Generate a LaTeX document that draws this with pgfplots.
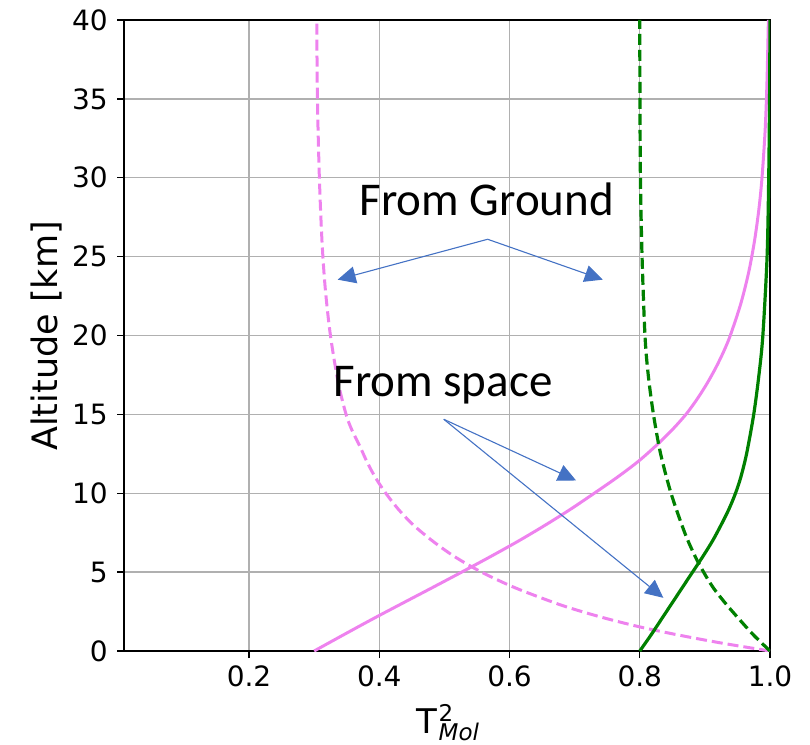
\documentclass[border=0pt]{standalone}
\usepackage{fontspec}
\setmainfont{DejaVu Sans}
\newfontfamily\carlito{Carlito}
\usepackage{pgfplots}
\pgfplotsset{compat=1.18}
\usetikzlibrary{arrows.meta}
\definecolor{violetc}{HTML}{EE82EE}
\definecolor{greenc}{HTML}{008000}
\definecolor{arrowc}{HTML}{4472C4}
\definecolor{gridc}{HTML}{B0B0B0}

% from space, pink (solid)
\pgfplotstableread{
x y
0.3000 0
0.3440 1
0.3885 2
0.4344 3
0.4807 4
0.5265 5
0.5715 6
0.6149 7
0.6557 8
0.6942 9
0.7301 10
0.7650 11
0.7971 12
0.8246 13
0.8493 14
0.8709 15
0.8886 16
0.9039 17
0.9173 18
0.9290 19
0.9390 20
0.9550 22
0.9672 24
0.9762 26
0.9829 28
0.9877 30
0.9925 33
0.9953 36
0.9975 40
}\spacepink

% from ground, pink (dashed)
\pgfplotstableread{
x y
1.000 0
0.926 0.5
0.861 1
0.803 1.5
0.754 2
0.711 2.5
0.673 3
0.609 4
0.557 5
0.515 6
0.481 7
0.452 8
0.429 9
0.410 10
0.394 11
0.381 12
0.370 13
0.358 14
0.349 15
0.337 17
0.325 20
0.317 23
0.312 26
0.308 30
0.305 35
0.304 40
}\groundpink

% from space, green (solid)
\pgfplotstableread{
x y
0.800 0
0.817 1
0.833 2
0.849 3
0.865 4
0.881 5
0.897 6
0.912 7
0.925 8
0.937 9
0.947 10
0.955 11
0.964 12.5
0.975 15
0.983 17.5
0.989 20
0.9955 25
0.998 30
0.9993 35
1.000 40
}\spacegreen

% from ground, green (dashed)
\pgfplotstableread{
x y
1.000 0
0.975 1
0.953 2
0.932 3
0.913 4
0.898 5
0.885 6
0.869 7.5
0.848 10
0.832 12.5
0.821 15
0.813 17.5
0.808 20
0.8035 25
0.801 30
0.8003 35
0.800 40
}\groundgreen

\begin{document}
\begin{tikzpicture}[x=1pt,y=1pt]
\path[use as bounding box] (0,0) rectangle (810,744);
\begin{axis}[
  at={(124pt,93pt)}, anchor=south west,
  scale only axis, width=646pt, height=631pt,
  xmin=0.008, xmax=1.0, ymin=0, ymax=40,
  xtick={0.2,0.4,0.6,0.8,1.0},
  xticklabels={0.2,0.4,0.6,0.8,1.0},
  ytick={0,5,...,40},
  grid=major,
  major grid style={draw=gridc, line width=1.3pt},
  axis line style={line width=1.6pt},
  tick align=outside, tick pos=left, major tick length=7pt,
  every tick/.style={black, line width=1.4pt},
  tick label style={font=\fontsize{28}{30}\selectfont, inner sep=0pt},
  /pgf/number format/assume math mode=true,
  yticklabel style={xshift=-9pt},
  xticklabel style={yshift=-8pt},
]
\addplot[violetc, line width=3pt, smooth] table {\spacepink};
\addplot[violetc, line width=3pt, smooth, dash pattern=on 11pt off 5pt] table {\groundpink};
\addplot[greenc, line width=3.2pt, smooth] table {\spacegreen};
\addplot[greenc, line width=3.2pt, smooth, dash pattern=on 11pt off 5pt] table {\groundgreen};

\node[anchor=base, inner sep=0pt, font=\carlito\fontsize{47}{50}\selectfont] at (axis cs:0.565,27.58) {From Ground};
\node[anchor=base, inner sep=0pt, font=\carlito\fontsize{47}{50}\selectfont] at (axis cs:0.4978,16.12) {From space};
\draw[arrowc, line width=1.1pt, -{Triangle[length=18pt,width=17pt]}] (axis cs:0.5664,26.10) -- (axis cs:0.3361,23.54);
\draw[arrowc, line width=1.1pt, -{Triangle[length=18pt,width=17pt]}] (axis cs:0.5664,26.10) -- (axis cs:0.7432,23.54);
\draw[arrowc, line width=1.1pt, -{Triangle[length=18pt,width=17pt]}] (axis cs:0.4990,14.69) -- (axis cs:0.7022,10.81);
\draw[arrowc, line width=1.1pt, -{Triangle[length=18pt,width=17pt]}] (axis cs:0.4990,14.69) -- (axis cs:0.8362,3.37);
\end{axis}
\node[rotate=90, anchor=south, inner sep=0pt, font=\fontsize{35}{38}\selectfont] at (62,408) {Altitude [km]};
\node[anchor=base, inner sep=0pt, font=\fontsize{34}{36}\selectfont] at (448,10.7)
  {T\kern1pt\rlap{\raisebox{12pt}{\fontsize{23}{23}\selectfont 2}}\raisebox{-6.7pt}{\fontsize{23}{23}\selectfont\itshape Mol}};
\end{tikzpicture}
\end{document}
